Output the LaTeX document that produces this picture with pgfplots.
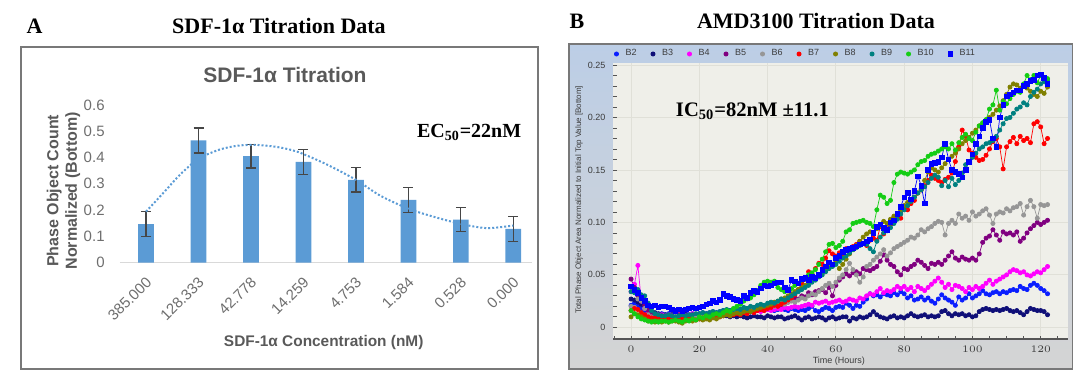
\documentclass[border=0pt]{standalone}
\usepackage{fontspec}
\setmainfont{Liberation Serif}
\newfontfamily\arial{Liberation Sans}
\usepackage{pgfplots}
\pgfplotsset{compat=1.18}
\definecolor{barblue}{RGB}{91,155,213}
\definecolor{errgray}{RGB}{70,70,70}
\definecolor{tickgray}{RGB}{110,110,110}
\definecolor{labgray}{RGB}{89,89,89}
\definecolor{axisgray}{RGB}{217,217,217}
\definecolor{framegray}{RGB}{120,120,120}
\definecolor{bTop}{RGB}{188,206,230}
\definecolor{bBot}{RGB}{212,212,212}
\definecolor{plotbg}{RGB}{239,239,233}
\definecolor{gridc}{RGB}{224,224,216}
\definecolor{axisdark}{RGB}{85,85,85}
\definecolor{ticktext}{RGB}{60,60,60}
\definecolor{cB2}{RGB}{10,30,255}
\definecolor{cB3}{RGB}{15,15,120}
\definecolor{cB4}{RGB}{255,0,255}
\definecolor{cB5}{RGB}{128,0,128}
\definecolor{cB6}{RGB}{150,150,150}
\definecolor{cB7}{RGB}{255,0,0}
\definecolor{cB8}{RGB}{128,128,0}
\definecolor{cB9}{RGB}{0,128,128}
\definecolor{cB10}{RGB}{20,205,20}
\definecolor{cB11}{RGB}{0,0,255}
\pgfplotsset{
  bser/.style={color=#1, line width=0.35pt, mark=*, mark size=1.05pt, mark options={solid}},
}
\begin{document}
\begin{tikzpicture}
\useasboundingbox (0,0) rectangle (540pt,188.5pt);
% ---------------- panel A ----------------
\draw[framegray, line width=0.7pt] (10.5pt,4pt) rectangle (269pt,165pt);
\node[font=\bfseries\fontsize{11}{13}\selectfont, anchor=base] at (17.3pt,171.8pt) {A};
\node[font=\bfseries\fontsize{11}{13}\selectfont, anchor=base] at (139.5pt,171.8pt) {SDF-1α Titration Data};
% ---------------- panel B frame ----------------
\shade[top color=bTop, bottom color=bBot] (284.5pt,4pt) rectangle (536.4pt,166.5pt);
\draw[framegray, line width=0.6pt] (284.5pt,4pt) rectangle (536.4pt,166.5pt);
\node[font=\bfseries\fontsize{11}{13}\selectfont, anchor=base] at (288.5pt,174.2pt) {B};
\node[font=\bfseries\fontsize{11}{13}\selectfont, anchor=base] at (408pt,174.2pt) {AMD3100 Titration Data};

\begin{axis}[
  at={(59.9pt,57.25pt)}, anchor=south west, scale only axis,
  width=205.95pt, height=78.75pt,
  xmin=-0.5, xmax=7.35, ymin=0, ymax=0.6,
  axis x line*=bottom, axis y line*=left,
  x axis line style={draw=axisgray, line width=0.6pt},
  y axis line style={draw=none},
  major tick length=0pt, tick style={draw=none},
  xtick={0,1,2,3,4,5,6,7},
  xticklabels={385.000,128.333,42.778,14.259,4.753,1.584,0.528,0.000},
  ytick={0,0.1,0.2,0.3,0.4,0.5,0.6},
  yticklabels={0,0.1,0.2,0.3,0.4,0.5,0.6},
  ticklabel style={font=\arial\fontsize{7.5}{9}\selectfont, text=tickgray},
  xticklabel style={xshift=1.5pt, yshift=-8.5pt, rotate=45, anchor=east, inner sep=0pt},
  yticklabel style={anchor=east, inner sep=0pt, xshift=-7.4pt},
  xlabel={SDF-1α Concentration (nM)},
  xlabel style={at={(axis description cs:0.495,-0.535)}, anchor=base, font=\arial\bfseries\fontsize{7.7}{9.5}\selectfont, text=labgray},
  ylabel={Phase Object Count\\Normalized (Bottom)},
  ylabel style={at={(axis description cs:-0.137,0.455)}, anchor=center, align=center, font=\arial\bfseries\fontsize{8}{9.25}\selectfont, text=labgray},
  title={SDF-1α  Titration},
  title style={at={(axis description cs:0.401,1.144)}, anchor=base, yshift=-6pt, font=\arial\bfseries\fontsize{10.5}{12}\selectfont, text=labgray},
  clip=false,
]
\addplot[ybar, bar width=7.85pt, fill=barblue, draw=none,
  error bars/.cd, y dir=both, y explicit,
  error bar style={draw=errgray, line width=0.6pt},
  error mark options={rotate=90, mark size=2.5pt, line width=0.6pt, draw=errgray}]
  coordinates {
  (0,0.146) +- (0,0.0475)
  (1,0.465) +- (0,0.0475)
  (2,0.405) +- (0,0.045)
  (3,0.383) +- (0,0.0475)
  (4,0.315) +- (0,0.0465)
  (5,0.239) +- (0,0.048)
  (6,0.163) +- (0,0.0455)
  (7,0.128) +- (0,0.0475)
  };
\addplot[smooth, color=barblue, line width=1pt, dash pattern=on 1pt off 1pt]
  coordinates {(0,0.194)(0.33,0.265)(0.65,0.335)(1,0.395)(1.4,0.43)(1.75,0.445)(2.1,0.448)(2.5,0.44)(2.8,0.427)(3,0.413)(3.45,0.373)(4,0.315)(4.46,0.255)(5,0.205)(5.47,0.175)(6,0.147)(6.5,0.131)(7,0.141)};
\node[font=\bfseries\fontsize{10}{12}\selectfont, anchor=base] at (axis description cs:0.848,0.795) {EC\textsubscript{50}=22nM};
\end{axis}

\begin{axis}[
  at={(306.65pt,18.85pt)}, anchor=south west, scale only axis,
  width=227.35pt, height=138.3pt,
  xmin=-5.2, xmax=128, ymin=-0.0114, ymax=0.2522,
  axis background/.style={fill=plotbg},
  axis x line*=bottom, axis y line*=left,
  x axis line style={draw=axisdark, line width=1pt},
  y axis line style={draw=none},
  xtick={0,20,40,60,80,100,120},
  minor xtick={-5,5,10,15,25,30,35,45,50,55,65,70,75,85,90,95,105,110,115,125},
  ytick={0,0.05,0.1,0.15,0.2,0.25},
  yticklabels={0,0.05,0.10,0.15,0.20,0.25},
  minor ytick={0.01,0.02,0.03,0.04,0.06,0.07,0.08,0.09,0.11,0.12,0.13,0.14,0.16,0.17,0.18,0.19,0.21,0.22,0.23,0.24},
  tick align=inside, major tick length=1.7pt, minor tick length=1.7pt,
  tick style={draw=axisdark, line width=0.4pt},
  xmajorgrids, ymajorgrids, major grid style={draw=gridc, line width=0.4pt},
  ticklabel style={font=\arial\fontsize{4.5}{5}\selectfont, text=ticktext},
  xticklabel style={anchor=center, yshift=-4.85pt},
  yticklabel style={anchor=east, inner sep=0pt, xshift=-3.8pt},
  xlabel={Time (Hours)},
  xlabel style={at={(axis description cs:0.496,-0.0774)}, anchor=center, font=\arial\fontsize{4.5}{5}\selectfont, text=ticktext},
  ylabel={Total Phase Object Area Normalized to Initial Top Value [Bottom]},
  ylabel style={at={(axis description cs:-0.0754,0.504)}, anchor=center, font=\arial\fontsize{4}{5}\selectfont, text=ticktext},
  legend style={at={(axis description cs:0.0015,1.0315)}, anchor=west, draw=none, fill=none, inner sep=0pt,
    font=\arial\fontsize{4.5}{5}\selectfont, text=ticktext,
    /tikz/every odd column/.append style={column sep=3pt},
    /tikz/every even column/.append style={column sep=6.65pt},
    nodes={inner sep=0.5pt}},
  legend columns=-1,
  legend image code/.code={\draw[#1] plot[only marks] coordinates {(0pt,0pt)};},
]
\addplot[bser=cB2] table[row sep=\\, header=false, x expr=\coordindex, y index=0] {
0.021\\0.023\\0.020\\0.018\\0.016\\0.014\\0.013\\0.013\\0.012\\0.013\\
0.012\\0.013\\0.012\\0.012\\0.011\\0.012\\0.013\\0.012\\0.013\\0.012\\
0.013\\0.014\\0.013\\0.014\\0.015\\0.014\\0.015\\0.016\\0.015\\0.016\\
0.015\\0.016\\0.017\\0.016\\0.015\\0.016\\0.017\\0.016\\0.017\\0.018\\
0.017\\0.018\\0.016\\0.017\\0.018\\0.017\\0.016\\0.018\\0.017\\0.016\\
0.017\\0.016\\0.018\\0.020\\0.016\\0.015\\0.017\\0.019\\0.018\\0.016\\
0.019\\0.020\\0.019\\0.023\\0.021\\0.018\\0.021\\0.020\\0.024\\0.027\\
0.032\\0.030\\0.031\\0.029\\0.032\\0.031\\0.030\\0.033\\0.031\\0.034\\
0.032\\0.028\\0.030\\0.026\\0.027\\0.029\\0.026\\0.028\\0.025\\0.023\\
0.027\\0.031\\0.028\\0.026\\0.024\\0.021\\0.029\\0.026\\0.028\\0.032\\
0.028\\0.030\\0.032\\0.035\\0.032\\0.031\\0.033\\0.034\\0.032\\0.034\\
0.033\\0.035\\0.036\\0.035\\0.039\\0.037\\0.036\\0.040\\0.042\\0.040\\
0.037\\0.035\\0.032\\
};
\addlegendentry{B2}
\addplot[bser=cB3] table[row sep=\\, header=false, x expr=\coordindex, y index=0] {
0.027\\0.026\\0.024\\0.022\\0.020\\0.017\\0.015\\0.014\\0.013\\0.012\\
0.012\\0.011\\0.012\\0.013\\0.012\\0.011\\0.012\\0.011\\0.012\\0.012\\
0.011\\0.012\\0.011\\0.012\\0.011\\0.010\\0.011\\0.012\\0.011\\0.010\\
0.011\\0.010\\0.011\\0.010\\0.009\\0.010\\0.011\\0.010\\0.010\\0.009\\
0.011\\0.010\\0.009\\0.010\\0.010\\0.008\\0.009\\0.010\\0.011\\0.009\\
0.007\\0.009\\0.010\\0.008\\0.009\\0.010\\0.009\\0.007\\0.009\\0.010\\
0.008\\0.009\\0.010\\0.010\\0.006\\0.009\\0.008\\0.010\\0.009\\0.010\\
0.012\\0.015\\0.012\\0.010\\0.009\\0.008\\0.010\\0.011\\0.009\\0.010\\
0.009\\0.011\\0.013\\0.011\\0.010\\0.011\\0.012\\0.010\\0.011\\0.010\\
0.011\\0.015\\0.016\\0.013\\0.011\\0.013\\0.012\\0.013\\0.011\\0.012\\
0.010\\0.011\\0.015\\0.017\\0.018\\0.017\\0.016\\0.017\\0.016\\0.017\\
0.018\\0.016\\0.015\\0.016\\0.014\\0.012\\0.015\\0.018\\0.017\\0.016\\
0.016\\0.015\\0.012\\
};
\addlegendentry{B3}
\addplot[bser=cB4] table[row sep=\\, header=false, x expr=\coordindex, y index=0] {
0.034\\0.041\\0.059\\0.025\\0.018\\0.014\\0.013\\0.012\\0.012\\0.012\\
0.011\\0.012\\0.011\\0.012\\0.013\\0.012\\0.011\\0.012\\0.013\\0.012\\
0.012\\0.013\\0.012\\0.013\\0.014\\0.013\\0.013\\0.014\\0.013\\0.014\\
0.014\\0.015\\0.014\\0.015\\0.016\\0.015\\0.014\\0.016\\0.015\\0.016\\
0.017\\0.016\\0.017\\0.018\\0.017\\0.019\\0.018\\0.019\\0.020\\0.019\\
0.020\\0.021\\0.022\\0.021\\0.024\\0.023\\0.024\\0.025\\0.023\\0.024\\
0.025\\0.026\\0.024\\0.025\\0.027\\0.026\\0.025\\0.028\\0.027\\0.030\\
0.032\\0.031\\0.034\\0.037\\0.033\\0.035\\0.034\\0.036\\0.039\\0.037\\
0.039\\0.036\\0.038\\0.034\\0.039\\0.037\\0.035\\0.038\\0.041\\0.044\\
0.047\\0.043\\0.038\\0.041\\0.036\\0.040\\0.039\\0.037\\0.034\\0.038\\
0.036\\0.039\\0.037\\0.039\\0.042\\0.045\\0.041\\0.044\\0.046\\0.048\\
0.050\\0.053\\0.055\\0.054\\0.052\\0.053\\0.050\\0.049\\0.051\\0.053\\
0.052\\0.055\\0.058\\
};
\addlegendentry{B4}
\addplot[bser=cB5] table[row sep=\\, header=false, x expr=\coordindex, y index=0] {
0.046\\0.038\\0.030\\0.026\\0.021\\0.016\\0.013\\0.012\\0.011\\0.011\\
0.010\\0.011\\0.010\\0.011\\0.012\\0.011\\0.010\\0.011\\0.012\\0.011\\
0.012\\0.013\\0.012\\0.013\\0.014\\0.013\\0.014\\0.015\\0.014\\0.015\\
0.016\\0.015\\0.017\\0.016\\0.018\\0.017\\0.019\\0.018\\0.020\\0.019\\
0.021\\0.020\\0.022\\0.023\\0.022\\0.025\\0.024\\0.026\\0.028\\0.027\\
0.030\\0.029\\0.033\\0.031\\0.034\\0.035\\0.036\\0.033\\0.038\\0.030\\
0.040\\0.045\\0.048\\0.051\\0.049\\0.052\\0.053\\0.051\\0.056\\0.055\\
0.054\\0.056\\0.058\\0.063\\0.069\\0.064\\0.060\\0.058\\0.053\\0.050\\
0.056\\0.055\\0.058\\0.060\\0.064\\0.062\\0.059\\0.056\\0.061\\0.060\\
0.062\\0.060\\0.064\\0.068\\0.072\\0.066\\0.064\\0.067\\0.065\\0.064\\
0.066\\0.064\\0.070\\0.081\\0.085\\0.087\\0.093\\0.088\\0.083\\0.091\\
0.089\\0.090\\0.088\\0.091\\0.082\\0.085\\0.090\\0.094\\0.097\\0.100\\
0.098\\0.100\\0.102\\
};
\addlegendentry{B5}
\addplot[bser=cB6] table[row sep=\\, header=false, x expr=\coordindex, y index=0] {
0.020\\0.019\\0.027\\0.025\\0.018\\0.012\\0.010\\0.010\\0.009\\0.010\\
0.010\\0.009\\0.010\\0.011\\0.010\\0.009\\0.010\\0.011\\0.010\\0.011\\
0.011\\0.012\\0.011\\0.012\\0.013\\0.012\\0.013\\0.014\\0.013\\0.014\\
0.015\\0.014\\0.016\\0.015\\0.017\\0.016\\0.018\\0.017\\0.019\\0.018\\
0.020\\0.021\\0.020\\0.022\\0.023\\0.022\\0.024\\0.025\\0.024\\0.026\\
0.028\\0.027\\0.030\\0.032\\0.031\\0.034\\0.037\\0.040\\0.042\\0.039\\
0.043\\0.047\\0.050\\0.055\\0.061\\0.055\\0.050\\0.043\\0.048\\0.058\\
0.060\\0.064\\0.067\\0.070\\0.074\\0.068\\0.071\\0.075\\0.077\\0.079\\
0.081\\0.083\\0.086\\0.085\\0.088\\0.093\\0.091\\0.094\\0.096\\0.099\\
0.101\\0.100\\0.088\\0.099\\0.102\\0.099\\0.108\\0.104\\0.106\\0.102\\
0.110\\0.106\\0.108\\0.111\\0.113\\0.107\\0.099\\0.108\\0.110\\0.109\\
0.113\\0.111\\0.114\\0.115\\0.118\\0.107\\0.115\\0.121\\0.115\\0.104\\
0.117\\0.116\\0.117\\
};
\addlegendentry{B6}
\addplot[bser=cB7] table[row sep=\\, header=false, x expr=\coordindex, y index=0] {
0.016\\0.018\\0.017\\0.014\\0.012\\0.010\\0.009\\0.009\\0.008\\0.009\\
0.008\\0.009\\0.008\\0.009\\0.008\\0.009\\0.008\\0.009\\0.008\\0.007\\
0.008\\0.009\\0.010\\0.009\\0.010\\0.011\\0.010\\0.011\\0.012\\0.011\\
0.012\\0.013\\0.012\\0.014\\0.013\\0.015\\0.014\\0.016\\0.017\\0.016\\
0.018\\0.019\\0.021\\0.020\\0.022\\0.024\\0.026\\0.028\\0.031\\0.036\\
0.042\\0.046\\0.053\\0.051\\0.056\\0.061\\0.060\\0.066\\0.073\\0.070\\
0.068\\0.071\\0.070\\0.075\\0.074\\0.077\\0.079\\0.082\\0.080\\0.078\\
0.083\\0.085\\0.083\\0.096\\0.089\\0.094\\0.098\\0.105\\0.107\\0.104\\
0.115\\0.112\\0.118\\0.121\\0.128\\0.131\\0.135\\0.140\\0.145\\0.142\\
0.140\\0.138\\0.141\\0.143\\0.147\\0.158\\0.172\\0.188\\0.182\\0.169\\
0.166\\0.162\\0.159\\0.160\\0.164\\0.170\\0.177\\0.180\\0.172\\0.151\\
0.172\\0.177\\0.181\\0.175\\0.182\\0.178\\0.180\\0.176\\0.194\\0.196\\
0.191\\0.175\\0.180\\
};
\addlegendentry{B7}
\addplot[bser=cB8] table[row sep=\\, header=false, x expr=\coordindex, y index=0] {
0.010\\0.013\\0.012\\0.010\\0.008\\0.006\\0.006\\0.005\\0.006\\0.005\\
0.006\\0.005\\0.006\\0.006\\0.005\\0.004\\0.006\\0.007\\0.006\\0.007\\
0.008\\0.007\\0.008\\0.007\\0.009\\0.008\\0.010\\0.011\\0.012\\0.011\\
0.013\\0.014\\0.013\\0.015\\0.016\\0.015\\0.017\\0.018\\0.019\\0.020\\
0.021\\0.022\\0.024\\0.025\\0.027\\0.028\\0.030\\0.032\\0.034\\0.036\\
0.038\\0.040\\0.043\\0.045\\0.047\\0.050\\0.052\\0.054\\0.057\\0.060\\
0.062\\0.056\\0.060\\0.065\\0.070\\0.074\\0.078\\0.082\\0.086\\0.089\\
0.091\\0.090\\0.094\\0.097\\0.101\\0.099\\0.103\\0.106\\0.108\\0.112\\
0.116\\0.119\\0.121\\0.124\\0.128\\0.132\\0.140\\0.148\\0.152\\0.150\\
0.148\\0.152\\0.156\\0.160\\0.163\\0.166\\0.170\\0.175\\0.178\\0.181\\
0.185\\0.188\\0.192\\0.194\\0.196\\0.200\\0.203\\0.207\\0.211\\0.216\\
0.222\\0.229\\0.232\\0.231\\0.228\\0.230\\0.228\\0.225\\0.222\\0.220\\
0.225\\0.223\\0.229\\
};
\addlegendentry{B8}
\addplot[bser=cB9] table[row sep=\\, header=false, x expr=\coordindex, y index=0] {
0.034\\0.033\\0.036\\0.031\\0.030\\0.023\\0.016\\0.013\\0.012\\0.011\\
0.011\\0.012\\0.011\\0.010\\0.011\\0.012\\0.011\\0.012\\0.012\\0.013\\
0.013\\0.014\\0.013\\0.014\\0.015\\0.014\\0.015\\0.016\\0.017\\0.016\\
0.017\\0.018\\0.017\\0.019\\0.018\\0.020\\0.019\\0.021\\0.022\\0.021\\
0.023\\0.024\\0.023\\0.025\\0.027\\0.026\\0.028\\0.030\\0.032\\0.034\\
0.036\\0.038\\0.040\\0.043\\0.045\\0.048\\0.050\\0.053\\0.056\\0.058\\
0.060\\0.063\\0.066\\0.068\\0.071\\0.074\\0.076\\0.078\\0.080\\0.079\\
0.075\\0.072\\0.082\\0.086\\0.090\\0.092\\0.095\\0.099\\0.103\\0.108\\
0.112\\0.116\\0.120\\0.124\\0.128\\0.131\\0.134\\0.138\\0.142\\0.145\\
0.143\\0.135\\0.140\\0.134\\0.142\\0.136\\0.140\\0.147\\0.155\\0.158\\
0.162\\0.166\\0.170\\0.172\\0.175\\0.176\\0.178\\0.182\\0.188\\0.194\\
0.199\\0.200\\0.204\\0.208\\0.210\\0.214\\0.212\\0.220\\0.224\\0.227\\
0.232\\0.234\\0.236\\
};
\addlegendentry{B9}
\addplot[bser=cB10] table[row sep=\\, header=false, x expr=\coordindex, y index=0] {
0.016\\0.013\\0.010\\0.008\\0.007\\0.006\\0.005\\0.006\\0.005\\0.006\\
0.006\\0.005\\0.006\\0.007\\0.006\\0.005\\0.007\\0.006\\0.008\\0.007\\
0.010\\0.009\\0.011\\0.010\\0.012\\0.013\\0.012\\0.014\\0.016\\0.015\\
0.018\\0.020\\0.022\\0.025\\0.027\\0.028\\0.031\\0.035\\0.040\\0.043\\
0.044\\0.043\\0.044\\0.038\\0.036\\0.034\\0.035\\0.037\\0.040\\0.042\\
0.045\\0.046\\0.050\\0.052\\0.055\\0.060\\0.065\\0.072\\0.079\\0.080\\
0.076\\0.078\\0.082\\0.091\\0.093\\0.099\\0.100\\0.101\\0.102\\0.100\\
0.099\\0.096\\0.112\\0.126\\0.124\\0.118\\0.121\\0.138\\0.146\\0.148\\
0.147\\0.146\\0.148\\0.150\\0.155\\0.158\\0.159\\0.163\\0.165\\0.166\\
0.168\\0.170\\0.172\\0.170\\0.175\\0.169\\0.176\\0.181\\0.184\\0.180\\
0.178\\0.186\\0.192\\0.195\\0.198\\0.208\\0.212\\0.226\\0.207\\0.215\\
0.213\\0.218\\0.222\\0.225\\0.224\\0.232\\0.240\\0.236\\0.240\\0.233\\
0.240\\0.238\\0.237\\
};
\addlegendentry{B10}
\addplot[bser=cB11, mark=square*, mark size=1.15pt] table[row sep=\\, header=false, x expr=\coordindex, y index=0] {
0.039\\0.036\\0.033\\0.028\\0.025\\0.021\\0.020\\0.021\\0.019\\0.020\\
0.020\\0.019\\0.017\\0.016\\0.017\\0.016\\0.017\\0.018\\0.019\\0.018\\
0.019\\0.020\\0.022\\0.023\\0.025\\0.024\\0.026\\0.032\\0.030\\0.029\\
0.027\\0.026\\0.025\\0.030\\0.028\\0.033\\0.035\\0.034\\0.037\\0.040\\
0.039\\0.040\\0.042\\0.043\\0.043\\0.038\\0.036\\0.045\\0.044\\0.042\\
0.046\\0.047\\0.045\\0.048\\0.047\\0.050\\0.055\\0.058\\0.062\\0.060\\
0.066\\0.068\\0.072\\0.074\\0.075\\0.076\\0.077\\0.079\\0.080\\0.082\\
0.084\\0.090\\0.096\\0.098\\0.095\\0.093\\0.100\\0.102\\0.108\\0.115\\
0.124\\0.128\\0.122\\0.130\\0.144\\0.135\\0.118\\0.150\\0.156\\0.157\\
0.158\\0.162\\0.175\\0.160\\0.150\\0.148\\0.146\\0.143\\0.150\\0.158\\
0.165\\0.175\\0.182\\0.190\\0.196\\0.198\\0.180\\0.172\\0.200\\0.212\\
0.220\\0.222\\0.224\\0.226\\0.226\\0.230\\0.232\\0.235\\0.236\\0.240\\
0.241\\0.238\\0.232\\
};
\addlegendentry{B11}
\node[font=\bfseries\fontsize{10.3}{12}\selectfont, anchor=base] at (axis description cs:0.306,0.807) {IC\textsubscript{50}=82nM ±11.1};
\end{axis}
\end{tikzpicture}
\end{document}
